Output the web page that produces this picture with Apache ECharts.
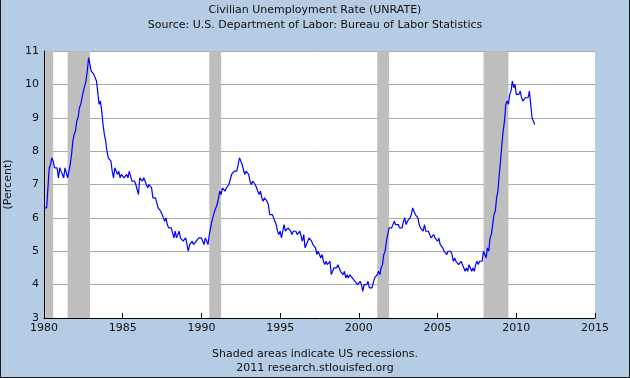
<!DOCTYPE html>
<html>
<head>
<meta charset="utf-8">
<script src="https://cdn.jsdelivr.net/npm/echarts@6/dist/echarts.min.js"></script>
<style>
html, body { margin: 0; padding: 0; }
#main { position: absolute; left: 0; top: 0; width: 630px; height: 378px; }
#frame { position: absolute; left: 0; top: 0; width: 630px; height: 378px; box-sizing: border-box;
  border: 1px solid #1c1c1c; border-top: none; pointer-events: none; }
</style>
</head>
<body>
<div id="main"></div>
<div id="frame"></div>
<script>
// monthly unemployment rate, Jan 1980 .. Mar 2011 (percent)
var startYear = 1980;
var unrate = [
  6.3, 6.3, 6.3, 6.9, 7.5, 7.6, 7.8, 7.7, 7.5, 7.5, 7.5, 7.2,   // 1980
  7.5, 7.4, 7.4, 7.2, 7.5, 7.5, 7.2, 7.4, 7.6, 7.9, 8.3, 8.5,   // 1981
  8.6, 8.9, 9.0, 9.3, 9.4, 9.6, 9.8, 9.8, 10.1, 10.4, 10.8, 10.8,
  10.4, 10.4, 10.3, 10.2, 10.1, 10.1, 9.4, 9.5, 9.2, 8.8, 8.5, 8.3,
  8.0, 7.8, 7.8, 7.7, 7.4, 7.2, 7.5, 7.5, 7.3, 7.4, 7.2, 7.3,   // 1984
  7.3, 7.2, 7.2, 7.3, 7.2, 7.4, 7.4, 7.1, 7.1, 7.1, 7.0, 7.0,
  6.7, 7.2, 7.2, 7.1, 7.2, 7.2, 7.0, 6.9, 7.0, 7.0, 6.9, 6.6,
  6.6, 6.6, 6.6, 6.3, 6.3, 6.2, 6.1, 6.0, 5.9, 6.0, 5.8, 5.7,
  5.7, 5.7, 5.7, 5.4, 5.6, 5.4, 5.4, 5.6, 5.4, 5.4, 5.3, 5.3,   // 1988
  5.4, 5.2, 5.0, 5.2, 5.2, 5.3, 5.2, 5.2, 5.3, 5.3, 5.4, 5.4,
  5.4, 5.3, 5.2, 5.4, 5.4, 5.2, 5.5, 5.7, 5.9, 5.9, 6.2, 6.3,
  6.4, 6.6, 6.8, 6.7, 6.9, 6.9, 6.8, 6.9, 6.9, 7.0, 7.0, 7.3,
  7.3, 7.4, 7.4, 7.4, 7.6, 7.8, 7.7, 7.6, 7.6, 7.3, 7.4, 7.4,   // 1992
  7.3, 7.1, 7.0, 7.1, 7.1, 7.0, 6.9, 6.8, 6.7, 6.8, 6.6, 6.5,
  6.6, 6.6, 6.5, 6.4, 6.1, 6.1, 6.1, 6.0, 5.9, 5.8, 5.6, 5.5,
  5.6, 5.4, 5.4, 5.8, 5.6, 5.6, 5.7, 5.7, 5.6, 5.5, 5.6, 5.6,
  5.6, 5.5, 5.5, 5.6, 5.6, 5.3, 5.5, 5.1, 5.2, 5.2, 5.4, 5.4,   // 1996
  5.3, 5.2, 5.2, 5.1, 4.9, 5.0, 4.9, 4.8, 4.9, 4.7, 4.6, 4.7,
  4.6, 4.6, 4.7, 4.3, 4.4, 4.5, 4.5, 4.5, 4.6, 4.5, 4.4, 4.4,
  4.3, 4.4, 4.2, 4.3, 4.2, 4.3, 4.3, 4.2, 4.2, 4.1, 4.1, 4.0,
  4.0, 4.1, 4.0, 3.8, 4.0, 4.0, 4.0, 4.1, 3.9, 3.9, 3.9, 3.9,   // 2000
  4.2, 4.2, 4.3, 4.4, 4.3, 4.5, 4.6, 4.9, 5.0, 5.3, 5.5, 5.7,
  5.7, 5.7, 5.7, 5.9, 5.8, 5.8, 5.8, 5.7, 5.7, 5.7, 5.9, 6.0,
  5.8, 5.9, 5.9, 6.0, 6.1, 6.3, 6.2, 6.1, 6.1, 6.0, 5.8, 5.7,
  5.7, 5.6, 5.8, 5.6, 5.6, 5.6, 5.5, 5.4, 5.4, 5.5, 5.4, 5.4,   // 2004
  5.3, 5.4, 5.2, 5.2, 5.1, 5.0, 5.0, 4.9, 5.0, 5.0, 5.0, 4.9,
  4.7, 4.8, 4.7, 4.7, 4.6, 4.6, 4.7, 4.7, 4.5, 4.4, 4.5, 4.4,
  4.6, 4.5, 4.4, 4.5, 4.4, 4.6, 4.7, 4.6, 4.7, 4.7, 4.7, 5.0,
  5.0, 4.8, 5.1, 5.0, 5.4, 5.5, 5.8, 6.1, 6.2, 6.6, 6.8, 7.3,   // 2008
  7.7, 8.2, 8.6, 8.9, 9.4, 9.5, 9.4, 9.7, 9.8, 10.1, 9.9, 10.0,
  9.7, 9.7, 9.7, 9.8, 9.6, 9.5, 9.5, 9.6, 9.6, 9.6, 9.8, 9.4,
  9.0, 8.9, 8.8                                                 // 2011
];

// recessions (decimal years)
var recessionStart = [1980.08, 1981.5, 1990.5, 2001.17, 2007.92];
var recessionEnd   = [1980.58, 1982.92, 1991.25, 2001.92, 2009.5];

var yearTicks = [1980, 2015, 5];   // min, max, step
var rateTicks = [3, 11, 1];

var lineData = unrate.map(function (v, i) {
  return [startYear + i / 12, v];
});
var shade = recessionStart.map(function (s, i) {
  return [{ xAxis: s }, { xAxis: recessionEnd[i] }];
});

var font = 'DejaVu Sans';
var myChart = echarts.init(document.getElementById('main'));
var option = {
  backgroundColor: '#b4cce4',
  animation: false,
  textStyle: { fontFamily: font },
  grid: {
    left: 44, right: 35, top: 51, bottom: 60,
    outerBoundsMode: 'none', containLabel: false,
    show: true, backgroundColor: '#ffffff', borderWidth: 0
  },
  graphic: [
    { type: 'text', left: 'center', top: 5,
      style: { text: 'Civilian Unemployment Rate (UNRATE)', font: '11px ' + font, fill: '#111' } },
    { type: 'text', left: 'center', top: 20,
      style: { text: 'Source: U.S. Department of Labor: Bureau of Labor Statistics', font: '11px ' + font, fill: '#111' } },
    { type: 'text', left: 'center', top: 349,
      style: { text: 'Shaded areas indicate US recessions.', font: '11px ' + font, fill: '#111' } },
    { type: 'text', left: 'center', top: 363,
      style: { text: '2011 research.stlouisfed.org', font: '11px ' + font, fill: '#111' } }
  ],
  xAxis: {
    type: 'value',
    min: yearTicks[0], max: yearTicks[1], interval: yearTicks[2],
    axisLine: { lineStyle: { color: '#000', width: 1 } },
    axisTick: { inside: true, length: 5, lineStyle: { color: '#000' } },
    axisLabel: { color: '#111', fontSize: 11, margin: 5, formatter: function (v) { return String(v); } },
    splitLine: { show: false }
  },
  yAxis: {
    type: 'value',
    min: rateTicks[0], max: rateTicks[1], interval: rateTicks[2],
    name: '(Percent)', nameLocation: 'middle', nameRotate: 90, nameGap: 27,
    nameTextStyle: { color: '#111', fontSize: 11 },
    axisLine: { show: true, lineStyle: { color: '#000', width: 1 } },
    axisTick: { show: false },
    axisLabel: { color: '#111', fontSize: 11, margin: 5 },
    splitLine: { lineStyle: { color: '#aaaaaa', width: 1 } }
  },
  series: [
    {
      name: 'recessions',
      type: 'line',
      data: [],
      silent: true,
      markArea: { silent: true, itemStyle: { color: '#bebebe', opacity: 1 }, data: shade }
    },
    {
      name: 'UNRATE',
      type: 'line',
      data: lineData,
      symbol: 'none',
      lineStyle: { color: '#0000ff', width: 1.2 }
    }
  ]
};
myChart.setOption(option);
</script>
</body>
</html>
